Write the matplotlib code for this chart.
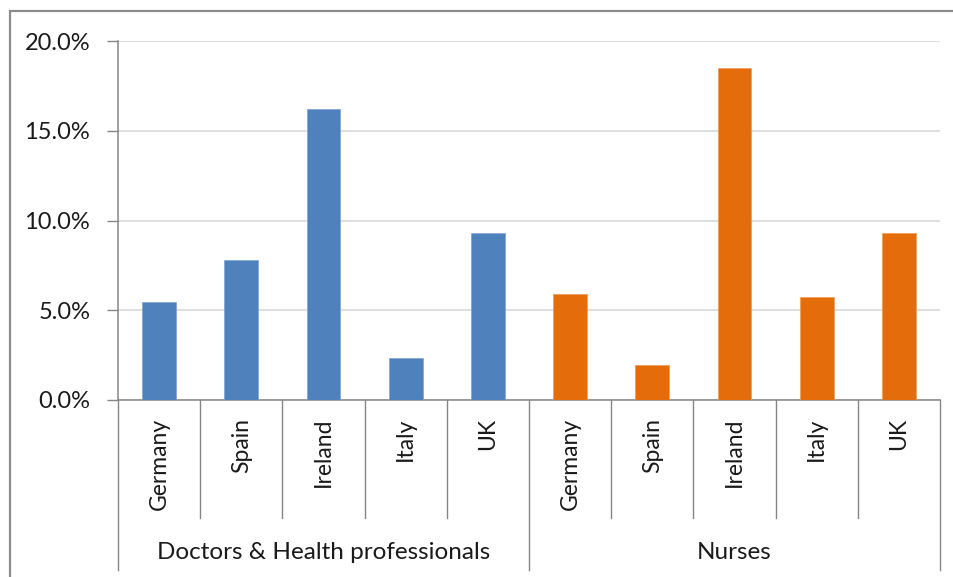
import matplotlib.pyplot as plt
from matplotlib.patches import Rectangle
from matplotlib.ticker import PercentFormatter

plt.rcParams['font.family'] = ['Lato', 'DejaVu Sans']

groups = ['Doctors & Health professionals', 'Nurses']
countries = ['Germany', 'Spain', 'Ireland', 'Italy', 'UK']
doctors = [5.46, 7.8, 16.2, 2.36, 9.29]
nurses = [5.89, 1.93, 18.48, 5.76, 9.29]
yticks = [0, 5, 10, 15, 20]

W, H = 954, 577
fig = plt.figure(figsize=(W / 100, H / 100), dpi=100)

# outer chart border, only left and top visible in the picture
fig.patches.append(Rectangle((10 / W, -0.05), 1.2, (H - 11) / H + 0.05,
                             transform=fig.transFigure, fill=False,
                             edgecolor='#8c8c8c', linewidth=1.6))

ax = fig.add_axes([118 / W, 1 - 400 / H, (940 - 118) / W, (400 - 41) / H])

n = len(countries)
x_doc = list(range(n))
x_nur = [n + i for i in range(n)]
ax.bar(x_doc, doctors, width=0.41, color='#4f81bd', edgecolor='#7ea3d1', linewidth=0.5, zorder=3)
ax.bar(x_nur, nurses, width=0.41, color='#e46c0a', edgecolor='#f29a55', linewidth=0.5, zorder=3)

ax.set_xlim(-0.5, 2 * n - 0.5)
ax.set_ylim(0, 20)
ax.set_yticks(yticks)
ax.yaxis.set_major_formatter(PercentFormatter(decimals=1))
ax.tick_params(axis='y', labelsize=17, length=8, width=1, color='#868686', pad=12,
               labelcolor='#1a1a1a')
ax.set_xticks([])
ax.grid(axis='y', color='#d4d4d4', linewidth=1.1, zorder=0)
for s in ['top', 'right']:
    ax.spines[s].set_visible(False)
for s in ['left', 'bottom']:
    ax.spines[s].set_color('#868686')
    ax.spines[s].set_linewidth(1.1)

# multi-level category axis
tr = ax.get_xaxis_transform()
line_kw = dict(color='#868686', linewidth=1.0, clip_on=False, transform=tr)
for i in range(2 * n + 1):
    xv = i - 0.5
    bottom = -0.4735 if i % n == 0 else -0.3287
    ax.plot([xv, xv], [0, bottom], **line_kw)

labels = countries + countries
for i, lab in enumerate(labels):
    ax.text(i, -0.05, lab, transform=tr, rotation=90, ha='center', va='top',
            fontsize=16.5, color='#1a1a1a')

for g, name in enumerate(groups):
    ax.text(g * n + (n - 1) / 2, -0.4234, name, transform=tr, ha='center', va='center',
            fontsize=17.5, color='#1a1a1a')

plt.savefig('out.png', dpi=100)
